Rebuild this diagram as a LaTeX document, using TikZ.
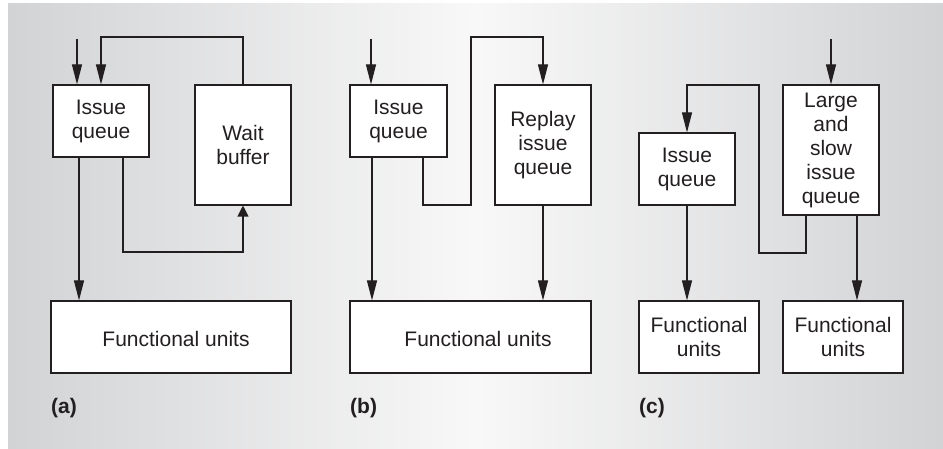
\documentclass[tikz,border=0pt]{standalone}
\usepackage{fontspec}
\setmainfont{Liberation Sans}
\usetikzlibrary{arrows.meta}
\definecolor{ink}{HTML}{231F20}
\definecolor{panelgray}{HTML}{D2D3D5}
\definecolor{panelmid}{HTML}{F8F8F8}
\tikzset{
  box/.style={draw=ink, fill=white, line width=1.1pt, inner sep=0pt, align=center,
              text=ink, font=\fontsize{21}{24}\selectfont},
  txt/.style={inner sep=0pt, align=center, text=ink, font=\fontsize{21}{24}\selectfont},
  tag/.style={inner sep=0pt, anchor=west, text=ink, font=\fontsize{21}{24}\selectfont\bfseries},
  wire/.style={draw=ink, line width=1.1pt},
  arr/.style={wire, -{Triangle[length=20pt, width=10pt]}},
  arrshort/.style={wire, -{Triangle[length=11pt, width=11pt]}},
}
\begin{document}
\begin{tikzpicture}[x=1pt, y=-1pt]
\useasboundingbox (0,0) rectangle (943,449);
% shaded backdrop
\shade[left color=panelgray, right color=panelgray, middle color=panelmid]
  (8,4) rectangle (943,448);

% ---------------- (a) wait buffer ----------------
\node[box, minimum width=96, minimum height=72] (iqa) at (101,121) {Issue\\queue};
\node[box, minimum width=96, minimum height=120] (wb) at (243,145) {Wait\\buffer};
\node[box, minimum width=240, minimum height=72] (fua) at (171,337) {};
\node[txt] (fuatxt) at (176,339) {Functional units};
\node[tag] (taga) at (51,408) {(a)};
\coordinate (ina) at (77,39);
\coordinate (fba) at (101,37);
\coordinate (ra) at (123,252);
\coordinate (da) at (79,0);
\draw[arr] (ina) -- (ina |- iqa.north);
\draw[arr] (wb.north) |- (fba) -- (iqa.north);
\draw[arrshort] (ra |- iqa.south) -- (ra) -| (wb.south);
\draw[arr] (da |- iqa.south) -- (da |- fua.north);

% ---------------- (b) replay issue queue ----------------
\node[box, minimum width=97, minimum height=72] (iqb) at (398.5,121) {Issue\\queue};
\node[box, minimum width=96, minimum height=120] (rq) at (543,145) {Replay\\issue\\queue};
\node[box, minimum width=241, minimum height=72] (fub) at (470.5,337) {};
\node[txt] (fubtxt) at (478,339) {Functional units};
\node[tag] (tagb) at (350,408) {(b)};
\coordinate (inb) at (371,39);
\coordinate (rb1) at (423,205);
\coordinate (rb2) at (471,37);
\coordinate (db) at (372,0);
\draw[arr] (inb) -- (inb |- iqb.north);
\draw[arr] (rb1 |- iqb.south) -- (rb1) -| (rb2) -| (rq.north);
\draw[arr] (db |- iqb.south) -- (db |- fub.north);
\draw[arr] (rq.south) -- (rq.south |- fub.north);

% ---------------- (c) large and slow issue queue ----------------
\node[box, minimum width=96, minimum height=72] (iqc) at (687,169) {Issue\\queue};
\node[box, minimum width=96, minimum height=130] (lq) at (831,150) {Large\\and\\slow\\issue\\queue};
\node[box, minimum width=120, minimum height=72] (fuc1) at (699,337) {Functional\\units};
\node[box, minimum width=120, minimum height=72] (fuc2) at (843,337) {Functional\\units};
\node[tag] (tagc) at (639,408) {(c)};
\coordinate (inc) at (831,39);
\coordinate (rc1) at (806,253);
\coordinate (rc2) at (759,85);
\coordinate (dc) at (857,0);
\draw[arr] (inc) -- (lq.north);
\draw[arr] (rc1 |- lq.south) -- (rc1) -| (rc2) -| (iqc.north);
\draw[arr] (iqc.south) -- (iqc.south |- fuc1.north);
\draw[arr] (dc |- lq.south) -- (dc |- fuc2.north);
\end{tikzpicture}
\end{document}
